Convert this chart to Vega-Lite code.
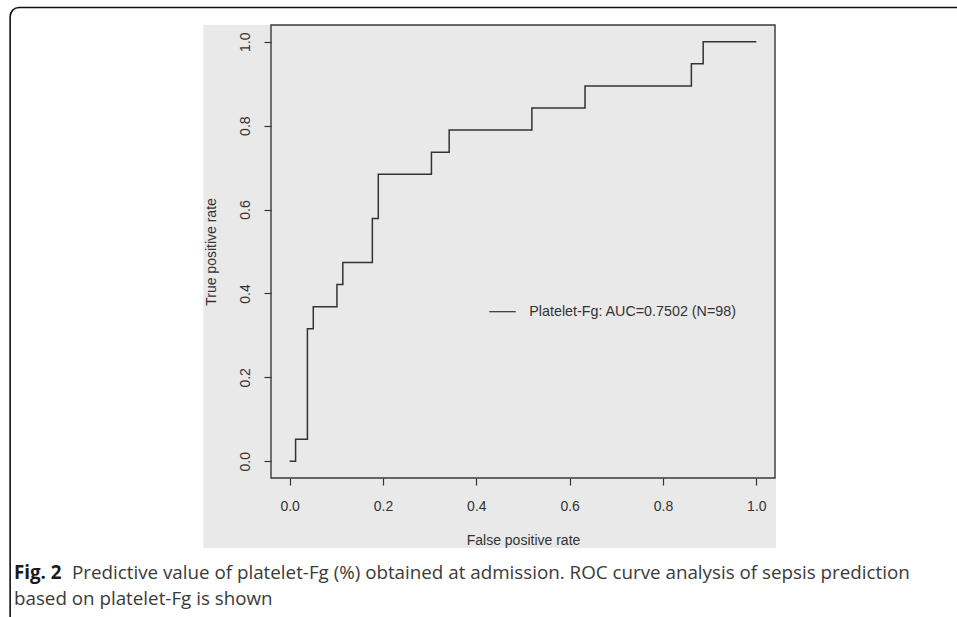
{
  "$schema": "https://vega.github.io/schema/vega-lite/v6.json",
  "width": 504,
  "height": 453,
  "autosize": "none",
  "padding": {"left": 271, "top": 25, "right": 182, "bottom": 139},
  "background": "white",
  "config": {
    "view": {"stroke": null},
    "axis": {
      "domain": false,
      "grid": false,
      "ticks": true,
      "tickSize": 7,
      "tickColor": "#333333",
      "tickWidth": 1.2,
      "labelFont": "Liberation Sans",
      "labelFontSize": 14,
      "labelColor": "#333333",
      "titleFont": "Liberation Sans",
      "titleFontSize": 14,
      "titleFontWeight": "normal",
      "titleColor": "#333333"
    }
  },
  "datasets": {
    "roc": [
      {"fpr": 0.0, "tpr": 0.0},
      {"fpr": 0.0127, "tpr": 0.0526},
      {"fpr": 0.038, "tpr": 0.3158},
      {"fpr": 0.0506, "tpr": 0.3684},
      {"fpr": 0.1013, "tpr": 0.4211},
      {"fpr": 0.1139, "tpr": 0.4737},
      {"fpr": 0.1772, "tpr": 0.5789},
      {"fpr": 0.1899, "tpr": 0.6842},
      {"fpr": 0.3038, "tpr": 0.7368},
      {"fpr": 0.3418, "tpr": 0.7895},
      {"fpr": 0.519, "tpr": 0.8421},
      {"fpr": 0.6329, "tpr": 0.8947},
      {"fpr": 0.8608, "tpr": 0.9474},
      {"fpr": 0.8861, "tpr": 1.0},
      {"fpr": 1.0, "tpr": 1.0}
    ],
    "legend": [{"label": "Platelet-Fg: AUC=0.7502 (N=98)"}],
    "fig": [{"label": "Fig. 2"}],
    "cap1": [{"label": "Predictive value of platelet-Fg (%) obtained at admission. ROC curve analysis of sepsis prediction"}],
    "cap2": [{"label": "based on platelet-Fg is shown"}],
    "one": [{}]
  },
  "layer": [
    {
      "data": {"name": "one"},
      "mark": {"type": "rect", "fill": "#e9e9e9", "clip": false},
      "encoding": {
        "x": {"datum": -0.185, "type": "quantitative",
          "scale": {"domain": [-0.04, 1.04], "nice": false, "zero": false},
          "axis": {"title": "False positive rate", "zindex": 5, "values": [0, 0.2, 0.4, 0.6, 0.8, 1.0], "format": ".1f", "labelPadding": 14, "titlePadding": 20}},
        "x2": {"datum": 1.042},
        "y": {"datum": -0.207, "type": "quantitative",
          "scale": {"domain": [-0.04, 1.04], "nice": false, "zero": false},
          "axis": {"title": "True positive rate", "zindex": 5, "values": [0, 0.2, 0.4, 0.6, 0.8, 1.0], "format": ".1f", "labelAngle": -90, "labelAlign": "center", "labelBaseline": "middle", "labelPadding": 19, "titlePadding": 20}},
        "y2": {"datum": 1.04}
      }
    },
    {
      "data": {"name": "one"},
      "mark": {"type": "rect", "fill": null, "stroke": "#3a3a3a", "strokeWidth": 1.4, "clip": false},
      "encoding": {
        "x": {"datum": -0.04, "type": "quantitative"},
        "x2": {"datum": 1.04},
        "y": {"datum": -0.04, "type": "quantitative"},
        "y2": {"datum": 1.04}
      }
    },
    {
      "data": {"name": "roc"},
      "mark": {"type": "line", "interpolate": "step-after", "stroke": "#333333", "strokeWidth": 1.5},
      "encoding": {
        "x": {"field": "fpr", "type": "quantitative", "title": "False positive rate"},
        "y": {"field": "tpr", "type": "quantitative", "title": "True positive rate"}
      }
    },
    {
      "data": {"name": "one"},
      "mark": {"type": "rule", "stroke": "#333333", "strokeWidth": 1.2},
      "encoding": {
        "x": {"datum": 0.4278, "type": "quantitative"},
        "x2": {"datum": 0.4844},
        "y": {"datum": 0.3565, "type": "quantitative"}
      }
    },
    {
      "data": {"name": "legend"},
      "mark": {"type": "text", "align": "left", "baseline": "middle", "font": "Liberation Sans", "fontSize": 14.3, "color": "#333333"},
      "encoding": {
        "x": {"datum": 0.5135, "type": "quantitative"},
        "y": {"datum": 0.3565, "type": "quantitative"},
        "text": {"field": "label"}
      }
    },
    {
      "data": {"name": "fig"},
      "mark": {"type": "text", "align": "left", "baseline": "middle", "font": "Open Sans", "fontSize": 18.8, "fontWeight": "bold", "color": "#1a1a1a", "clip": false},
      "encoding": {
        "x": {"datum": -0.5908, "type": "quantitative"},
        "y": {"datum": -0.2664, "type": "quantitative"},
        "text": {"field": "label"}
      }
    },
    {
      "data": {"name": "cap1"},
      "mark": {"type": "text", "align": "left", "baseline": "middle", "font": "Open Sans", "fontSize": 18.8, "color": "#3a3a3a", "clip": false},
      "encoding": {
        "x": {"datum": -0.4665, "type": "quantitative"},
        "y": {"datum": -0.2664, "type": "quantitative"},
        "text": {"field": "label"}
      }
    },
    {
      "data": {"name": "cap2"},
      "mark": {"type": "text", "align": "left", "baseline": "middle", "font": "Open Sans", "fontSize": 18.8, "color": "#3a3a3a", "clip": false},
      "encoding": {
        "x": {"datum": -0.5908, "type": "quantitative"},
        "y": {"datum": -0.328, "type": "quantitative"},
        "text": {"field": "label"}
      }
    },
    {
      "data": {"name": "one"},
      "mark": {"type": "rect", "fill": null, "stroke": "#111111", "strokeWidth": 1.6, "cornerRadius": 9, "clip": false},
      "encoding": {
        "x": {"datum": -0.599, "type": "quantitative"},
        "x2": {"datum": 1.479},
        "y": {"datum": -0.426, "type": "quantitative"},
        "y2": {"datum": 1.0817}
      }
    }
  ]
}
